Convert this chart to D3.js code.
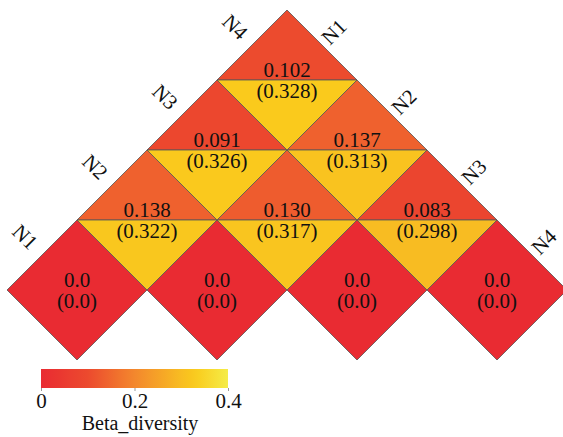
<!DOCTYPE html>
<html><head><meta charset="utf-8">
<script src="https://cdn.jsdelivr.net/npm/d3@7/dist/d3.min.js"></script>
<style>body{margin:0;background:#fff}svg{display:block}</style>
</head><body><svg id="c" width="563" height="437"></svg>
<script>
const groups = ["N1","N2","N3","N4"];
// pairs: [i, j, beta, parenthesised value]
const pairI = [0,1,2,3,0,1,2,0,1,0];
const pairJ = [0,1,2,3,1,2,3,2,3,3];
const betaVals = [0.0,0.0,0.0,0.0,0.138,0.130,0.083,0.091,0.137,0.102];
const parenVals = [0.0,0.0,0.0,0.0,0.322,0.317,0.298,0.326,0.313,0.328];
const legendTicks = [0,0.2,0.4];

const FONT = "Liberation Serif";
const svg = d3.select("#c");
const n = groups.length;
const half = 70;
const gx = d3.scaleLinear().domain([0, 2*n]).range([7, 7 + 2*half*n]);
const gy = d3.scaleLinear().domain([0, n]).range([360, 360 - half*n]);

const color = d3.scaleLinear()
  .domain([0,0.1,0.2,0.3,0.33,0.4])
  .range(["#E92B32","#EC4A2E","#F3872D","#F8BD22","#FACB1C","#F5EC48"]);

const cells = pairI.map((i,k)=>({i, j:pairJ[k], b:betaVals[k], p:parenVals[k], diag: pairI[k]===pairJ[k]}));

function txt(sel){ return sel.append("text").attr("font-family", FONT).attr("fill","#111"); }

const g = svg.append("g");
const line = d3.line();
cells.forEach(c=>{
  const row = c.j - c.i, col = c.i;
  const cxU = 2*col + row + 1;
  const cyU = row + 1;
  const L=[gx(cxU-1), gy(cyU)], R=[gx(cxU+1), gy(cyU)], T=[gx(cxU), gy(cyU+1)], B=[gx(cxU), gy(cyU-1)];
  if (c.diag) {
    g.append("path").attr("d", line([L,T,R,B])+"Z").attr("fill", color(c.b))
      .attr("stroke","#555").attr("stroke-width",0.8);
  } else {
    g.append("path").attr("d", line([L,T,R])+"Z").attr("fill", color(c.b))
      .attr("stroke","#555").attr("stroke-width",0.8);
    g.append("path").attr("d", line([L,B,R])+"Z").attr("fill", color(c.p))
      .attr("stroke","#555").attr("stroke-width",0.8);
  }
  const fmt = c.diag ? d3.format(".1f") : d3.format(".3f");
  txt(g).attr("x", gx(cxU)).attr("y", gy(cyU)-10).attr("text-anchor","middle")
    .attr("dominant-baseline","central").attr("font-size",21).text(fmt(c.b));
  txt(g).attr("x", gx(cxU)).attr("y", gy(cyU)+11).attr("text-anchor","middle")
    .attr("dominant-baseline","central").attr("font-size",21).text("(" + fmt(c.p) + ")");
});

// side labels
groups.forEach((lab,k)=>{
  const lx = gx(k) + 18, ly = gy(k+1) - 53;
  txt(svg).attr("transform",`translate(${lx},${ly}) rotate(45)`)
    .attr("text-anchor","middle").attr("dominant-baseline","central").attr("font-size",21).text(lab);
  const rx = gx(n + k) + 47, ry = gy(n - k + 1) + 22;
  txt(svg).attr("transform",`translate(${rx},${ry}) rotate(-45)`)
    .attr("text-anchor","middle").attr("dominant-baseline","central").attr("font-size",21).text(lab);
});

// legend
const lg = svg.append("g");
const lscale = d3.scaleLinear().domain([0,0.4]).range([41,228]);
const defs = svg.append("defs");
const grad = defs.append("linearGradient").attr("id","lgG");
d3.range(0,1.0001,0.05).forEach(t=>{
  grad.append("stop").attr("offset", t).attr("stop-color", color(t*0.4));
});
lg.append("rect").attr("x",41).attr("y",369).attr("width",187).attr("height",19).attr("fill","url(#lgG)");
const ax = d3.axisBottom(lscale).tickValues(legendTicks).tickFormat(d=> d===0 ? "0" : d3.format(".1f")(d)).tickSize(3).tickPadding(2);
const axg = lg.append("g").attr("transform","translate(0,388)").call(ax);
axg.attr("font-family", FONT).attr("font-size", 21);
axg.select(".domain").remove();
axg.selectAll(".tick line").attr("stroke","#999");
axg.selectAll("text").attr("fill","#111").attr("font-family", FONT);
txt(lg).attr("x",140).attr("y",423).attr("text-anchor","middle").attr("dominant-baseline","central")
  .attr("font-size",20).text("Beta_diversity");
</script></body></html>
